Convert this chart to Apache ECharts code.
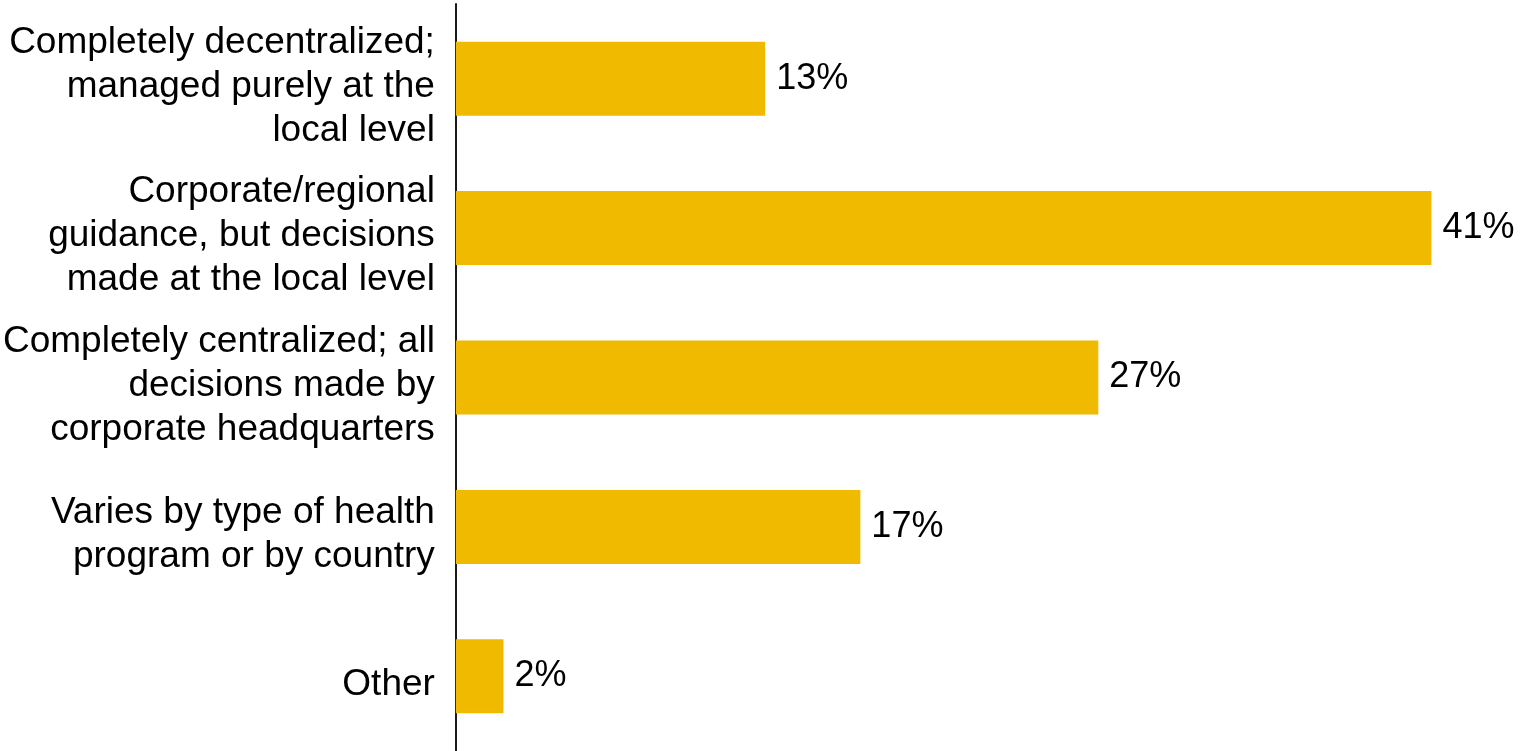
<!DOCTYPE html>
<html>
<head>
<meta charset="utf-8">
<script src="https://cdn.jsdelivr.net/npm/echarts@6/dist/echarts.min.js"></script>
<style>
  html, body { margin: 0; padding: 0; background: #fff; }
  #chart { width: 1522px; height: 751px; }
</style>
</head>
<body>
<div id="chart"></div>
<script>
// Survey answers: how health programs are managed across locations
const categories = [
  'Completely decentralized;\nmanaged purely at the\nlocal level',
  'Corporate/regional\nguidance, but decisions\nmade at the local level',
  'Completely centralized; all\ndecisions made by\ncorporate headquarters',
  'Varies by type of health\nprogram or by country',
  'Other'
];
const shares = [13, 41, 27, 17, 2];

const chart = echarts.init(document.getElementById('chart'), null, { renderer: 'canvas' });
const font = 'Liberation Sans, Arial, sans-serif';

chart.setOption({
  animation: false,
  backgroundColor: '#ffffff',
  grid: { left: 453, right: 43, top: 4, bottom: 0, containLabel: false },
  xAxis: {
    type: 'value',
    min: 0,
    max: 43,
    show: false
  },
  yAxis: {
    type: 'category',
    data: categories,
    inverse: true,
    axisLine: { show: true, lineStyle: { color: '#1a1a1a', width: 2 } },
    axisTick: { show: false },
    splitLine: { show: false },
    axisLabel: {
      color: '#000',
      fontFamily: font,
      fontSize: 37,
      lineHeight: 44,
      margin: 21,
      align: 'right',
      interval: 0,
      hideOverlap: false,
      showMinLabel: true,
      showMaxLabel: true,
      // a thin spacer line nudges each text block slightly below the bar centre
      formatter: v => '{gap| }\n' + v,
      rich: { gap: { fontSize: 2, lineHeight: 16 } }
    }
  },
  series: [{
    type: 'bar',
    data: shares,
    barWidth: '49.5%',
    itemStyle: { color: '#F0BA00' },
    label: {
      show: true,
      position: 'right',
      distance: 11,
      color: '#000',
      fontFamily: font,
      fontSize: 36,
      formatter: p => p.value + '%'
    }
  }]
});
</script>
</body>
</html>
